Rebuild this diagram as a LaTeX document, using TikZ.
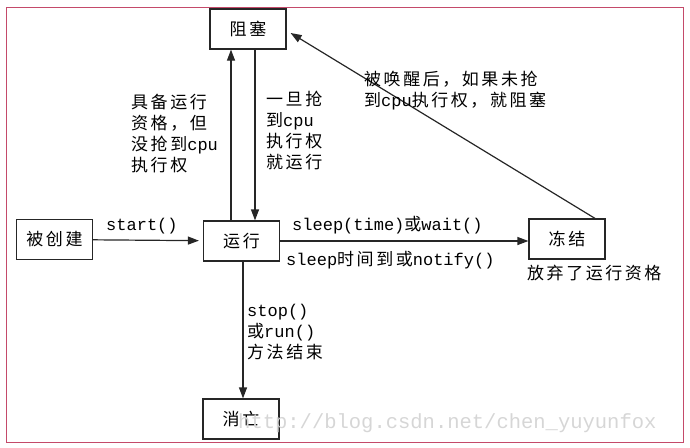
\documentclass[tikz,border=0pt]{standalone}
\usepackage{fontspec}
\setmainfont[LetterSpace=15]{Noto Sans CJK SC}
\newfontfamily\latinfont{Liberation Mono}
\newfontfamily\markfont{Liberation Mono}
\newcommand{\en}[1]{{\latinfont #1}}
\usetikzlibrary{calc, arrows.meta}

\begin{document}
\begin{tikzpicture}[x=1pt, y=-1pt,
    state/.style={draw=borderColour, line width=1.2pt, minimum width=76pt, minimum height=40pt, inner sep=0pt, font=\fontsize{17}{20}\selectfont},
    flow/.style={draw=borderColour, line width=1.2pt, -{Triangle[length=11pt,width=8pt]}},
    note/.style={align=left, inner sep=0pt, font=\fontsize{17}{21}\selectfont}]
    % Define colours
    \definecolor{borderColour}{HTML}{262626}
    \definecolor{frameColour}{HTML}{C44A6A}
    \definecolor{markColour}{HTML}{D6D6D6}

    % Fix the picture size
    \useasboundingbox (0,0) rectangle (690,447);

    % Draw outer frame
    \draw[frameColour, line width=1pt] (6,7) rectangle (683,442);

    % Draw the states
    \node[state] (block) at (248,29) {阻塞};
    \node[state] (create) at (54.5,239.5) {被创建};
    \node[state] (run) at (241.5,241) {运行};
    \node[state] (freeze) at (567,239) {冻结};
    \node[state] (dead) at (241,419) {消亡};

    % Draw the transitions
    \draw[flow, shorten >=4pt] (create) -- (run);
    \draw[flow] ([xshift=-10.5pt]run.north) -- ([xshift=-10.5pt]run.north |- block.south);
    \draw[flow] ([xshift=13.5pt]run.north |- block.south) -- ([xshift=13.5pt]run.north);
    \draw[flow] (run.east) -- (run.east -| freeze.west);
    \draw[flow] ([xshift=28pt]freeze.north) -- ([shift={(4pt,-4pt)}]block.east);
    \draw[flow] ([xshift=1.5pt]run.south) -- ([xshift=1.5pt]run.south |- dead.north);

    % Label the transitions
    \node[note, anchor=west] (startLabel) at (106,226) {\en{start()}};
    \node[note, anchor=north west] (readyLabel) at (131,94) {具备运行\\资格，但\\没抢到\en{cpu}\\执行权};
    \node[note, anchor=north west] (getLabel) at (266,91) {一旦抢\\到\en{cpu}\\执行权\\就运行};
    \node[note, anchor=north west] (wakeLabel) at (364,71) {被唤醒后，如果未抢\\到\en{cpu}执行权，就阻塞};
    \node[note, anchor=west] (sleepLabel) at (292,225) {\en{sleep(time)}或\en{wait()}};
    \node[note, anchor=west] (notifyLabel) at (286,260) {\en{sleep}时间到或\en{notify()}};
    \node[note, anchor=west] (giveupLabel) at (527,273) {放弃了运行资格};
    \node[note, anchor=north west] (stopLabel) at (247,304) {\en{stop()}\\或\en{run()}\\方法结束};

    % Watermark
    \node[anchor=west, inner sep=0pt, text=markColour, font=\markfont\fontsize{20.5}{22}\selectfont] (mark) at (238,423) {http://blog.csdn.net/chen\_yuyunfox};

\end{tikzpicture}
\end{document}
